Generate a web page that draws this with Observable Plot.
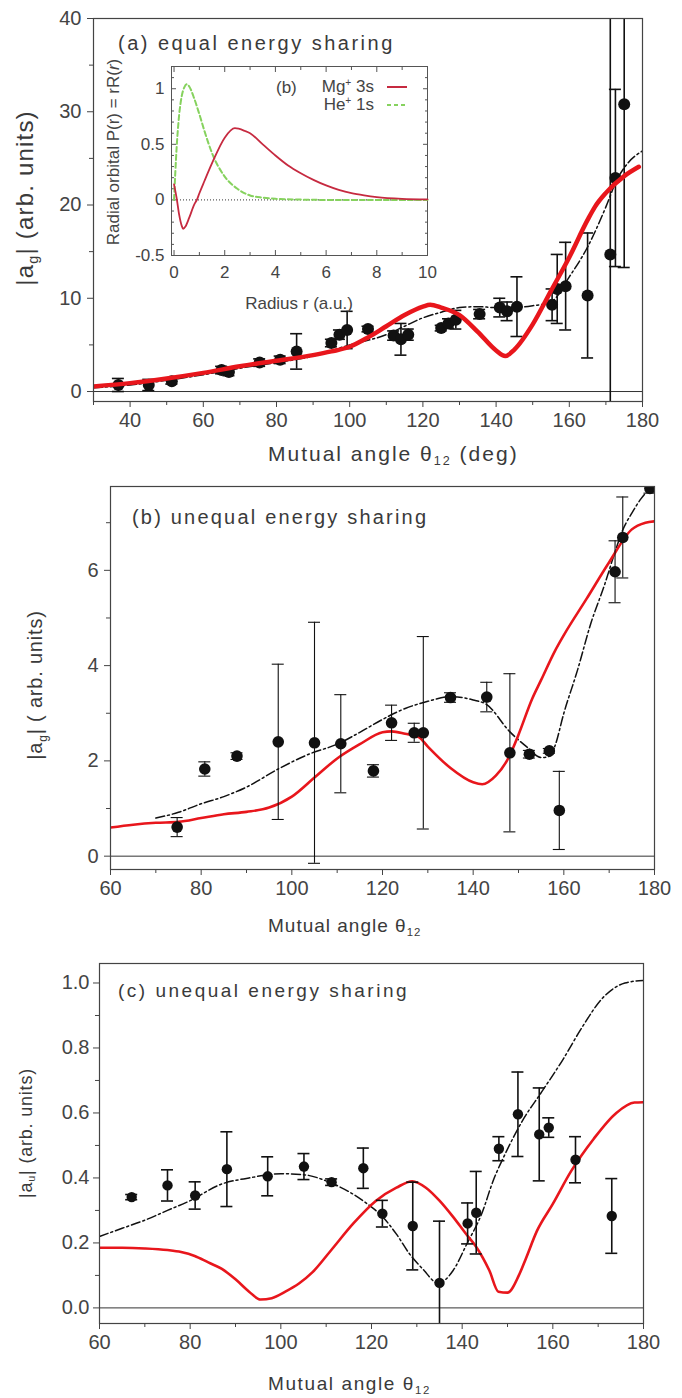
<!DOCTYPE html>
<html><head><meta charset="utf-8">
<script src="https://cdn.jsdelivr.net/npm/d3@7"></script>
<script src="https://cdn.jsdelivr.net/npm/@observablehq/plot@0.6"></script>
<style>
body{margin:0;background:#fff;}
#root{position:relative;width:682px;height:1398px;overflow:hidden;background:#fff;font-family:"Liberation Sans",Arial,sans-serif;color:#3a3a3a;}
#root svg{position:absolute;left:0;}
.lbl{position:absolute;white-space:nowrap;line-height:1;}
.rot{transform:translate(-50%,-50%) rotate(-90deg);}
.lbl sub{font-size:0.6em;vertical-align:-0.35em;}
.lbl sup{font-size:0.6em;vertical-align:0.6em;}
</style></head><body><div id="root"></div>
<script>
// ---------- Panel (a): equal energy sharing ----------
const aTheta = [36.8, 45.1, 51.4, 65, 67, 75.4, 81, 85.5, 95, 97.2, 99.3, 105, 112, 114, 116, 125, 127, 129, 135.5, 141, 143, 145.7, 155.3, 156.7, 159, 165, 171.2, 172.6, 175];
const aVal   = [0.7, 0.7, 1.1, 2.3, 2.1, 3.1, 3.4, 4.3, 5.2, 6.1, 6.6, 6.7, 6.0, 5.6, 6.1, 6.8, 7.3, 7.7, 8.3, 9.0, 8.6, 9.1, 9.3, 11.0, 11.3, 10.3, 14.7, 22.9, 30.8];
const aErr   = [0.7, 0.6, 0.3, 0.4, 0.4, 0.4, 0.4, 1.9, 0.4, 0.5, 2.0, 0.3, 0.5, 1.7, 0.6, 0.3, 0.5, 1.0, 0.5, 1.0, 1.0, 3.2, 1.7, 3.7, 4.7, 6.7, 30, 9.5, 17.5];
const aRedT  = [30, 40, 50, 60, 70, 80, 90, 95, 100, 105, 110, 115, 120, 122, 125, 130, 135, 140, 142.5, 145, 150, 155, 160, 165, 167, 170, 175, 179];
const aRedV  = [0.55, 0.9, 1.4, 2.0, 2.7, 3.3, 3.9, 4.3, 4.8, 5.8, 7.0, 8.2, 9.1, 9.3, 9.0, 8.2, 6.4, 4.4, 3.8, 4.5, 7.2, 10.8, 14.4, 18.4, 19.8, 21.3, 23.1, 24.1];
const aBlkT  = [30, 40, 50, 60, 70, 80, 90, 100, 110, 115, 120, 125, 130, 135, 140, 145, 150, 155, 160, 165, 170, 173, 176, 180];
const aBlkV  = [0.4, 0.7, 1.2, 1.8, 2.5, 3.1, 3.8, 5.0, 6.1, 7.0, 7.9, 8.5, 9.0, 9.1, 9.0, 9.0, 9.2, 9.6, 12.3, 15.5, 19.8, 22.7, 24.5, 25.8];

// ---------- Inset: radial orbitals ----------
const heR = [0, 0.1, 0.2, 0.3, 0.4, 0.5, 0.6, 0.8, 1.0, 1.2, 1.5, 2.0, 2.5, 3.0, 3.5, 4.0, 5.0, 6, 8, 10];
const heP = [0, 0.46, 0.76, 0.93, 1.01, 1.04, 1.02, 0.91, 0.77, 0.62, 0.42, 0.21, 0.1, 0.04, 0.02, 0.01, 0.003, 0, 0, 0];
const mgR = [0, 0.1, 0.2, 0.3, 0.36, 0.45, 0.6, 0.8, 0.9, 1.0, 1.2, 1.5, 2.0, 2.4, 2.8, 3.0, 3.5, 4.0, 4.5, 5.0, 5.5, 6.0, 6.5, 7, 7.5, 8, 9, 10];
const mgP = [0.14, 0.02, -0.13, -0.23, -0.26, -0.24, -0.16, -0.04, 0, 0.06, 0.17, 0.33, 0.56, 0.645, 0.62, 0.6, 0.5, 0.4, 0.31, 0.24, 0.18, 0.13, 0.09, 0.06, 0.04, 0.025, 0.01, 0.005];

// ---------- Panel (b): unequal energy sharing, |a_g| ----------
const bTheta = [74.7, 80.8, 87.9, 97, 105, 110.8, 118, 122, 127, 129, 135, 143, 148.1, 152.4, 156.8, 159, 171.3, 173, 179];
const bVal   = [0.61, 1.83, 2.1, 2.4, 2.38, 2.36, 1.79, 2.8, 2.59, 2.59, 3.33, 3.34, 2.17, 2.14, 2.21, 0.96, 5.97, 6.69, 7.72];
const bErr   = [0.2, 0.15, 0.07, 1.63, 2.53, 1.03, 0.13, 0.37, 0.2, 2.02, 0.1, 0.31, 1.66, 0.08, 0.05, 0.82, 0.65, 0.85, 0.1];
const bRedT  = [60, 65, 70, 75, 80, 85, 90, 95, 100, 105, 110, 115, 120, 122, 125, 128, 130, 135, 140, 142, 145, 148, 150, 153, 155, 158, 160, 165, 170, 175, 178, 180];
const bRedV  = [0.6, 0.66, 0.7, 0.72, 0.8, 0.88, 0.93, 1.02, 1.25, 1.65, 2.05, 2.35, 2.6, 2.62, 2.57, 2.5, 2.3, 1.85, 1.55, 1.51, 1.69, 2.1, 2.55, 3.3, 3.7, 4.3, 4.64, 5.4, 6.17, 6.86, 7.0, 7.03];
const bBlkT  = [70, 75, 80, 85, 90, 97, 104, 110, 115, 120, 125, 130, 135, 140, 143, 148, 152, 155, 157, 158, 160, 163, 166, 169, 171, 173, 175, 177, 179];
const bBlkV  = [0.8, 0.92, 1.1, 1.25, 1.45, 1.83, 2.15, 2.35, 2.6, 2.87, 3.1, 3.25, 3.35, 3.28, 3.18, 2.62, 2.28, 2.07, 2.1, 2.3, 3.0, 3.9, 4.9, 5.7, 6.3, 6.85, 7.2, 7.5, 7.72];

// ---------- Panel (c): unequal energy sharing, |a_u| ----------
const cTheta = [67.1, 75, 81.1, 88.1, 97.1, 105.1, 111.2, 118.2, 122.4, 129.1, 135, 141.2, 143.1, 148.1, 152.3, 157, 159.1, 165, 173];
const cVal   = [0.341, 0.377, 0.346, 0.427, 0.405, 0.435, 0.387, 0.43, 0.29, 0.252, 0.077, 0.26, 0.293, 0.49, 0.596, 0.534, 0.555, 0.456, 0.283];
const cErr   = [0.008, 0.048, 0.042, 0.115, 0.06, 0.04, 0.01, 0.062, 0.041, 0.135, 0.19, 0.063, 0.127, 0.037, 0.13, 0.143, 0.03, 0.071, 0.115];
const cRedT  = [60, 65, 70, 75, 78, 81, 84, 87, 90, 93, 95.5, 98, 101, 104, 107, 111, 116, 121, 125.5, 129, 132, 135, 138, 141, 143, 146, 148, 150, 152.5, 154, 156.5, 160, 164, 169, 174, 178, 180];
const cRedV  = [0.185, 0.185, 0.183, 0.178, 0.172, 0.16, 0.14, 0.12, 0.088, 0.05, 0.026, 0.03, 0.05, 0.075, 0.11, 0.176, 0.26, 0.33, 0.37, 0.39, 0.37, 0.33, 0.28, 0.225, 0.19, 0.115, 0.05, 0.047, 0.1, 0.15, 0.237, 0.32, 0.42, 0.52, 0.6, 0.632, 0.633];
const cBlkT  = [60, 65, 70, 75, 80, 86.7, 93, 100, 105, 111, 118.7, 122.6, 125.5, 128.4, 131.3, 134.7, 138, 141, 144.4, 146.8, 149.7, 153.6, 157.5, 162.3, 166.2, 171, 175.9, 180];
const cBlkV  = [0.22, 0.245, 0.27, 0.3, 0.33, 0.38, 0.4, 0.413, 0.41, 0.385, 0.324, 0.278, 0.227, 0.166, 0.12, 0.076, 0.115, 0.196, 0.293, 0.39, 0.48, 0.583, 0.664, 0.766, 0.858, 0.954, 1.0, 1.008];

// ---------- helpers ----------
const root = document.getElementById("root");
const pts = (ts, vs, es) => ts.map((t, i) => ({t, v: vs[i], e: es ? es[i] : 0}));
const FONT = '"Liberation Sans", Arial, sans-serif';
const RED = "#e8161c";
const INK = "#111";

function mainPanel(o) {
  const W = 682;
  const capHalf = o.capPx * (o.xDomain[1] - o.xDomain[0]) / (W - o.mL - o.mR);
  const P = pts(o.theta, o.val, o.err);
  const redMark = Plot.line(pts(o.redT, o.redV), {x: "t", y: "v", stroke: RED, strokeWidth: o.redW, curve: "monotone-x", clip: true});
  const blkMark = Plot.line(pts(o.blkT, o.blkV), {x: "t", y: "v", stroke: INK, strokeWidth: 1.5, strokeDasharray: "9,3,2,3", curve: "monotone-x", clip: true});
  const errMarks = [
    Plot.ruleX(P, {x: "t", y1: d => d.v - d.e, y2: d => d.v + d.e, stroke: INK, strokeWidth: o.errW, clip: true}),
    Plot.ruleY(P, {y: d => d.v - d.e, x1: d => d.t - capHalf, x2: d => d.t + capHalf, stroke: INK, strokeWidth: o.errW, clip: true}),
    Plot.ruleY(P, {y: d => d.v + d.e, x1: d => d.t - capHalf, x2: d => d.t + capHalf, stroke: INK, strokeWidth: o.errW, clip: true}),
    Plot.dot(P, {x: "t", y: "v", r: o.dotR, fill: INK, stroke: "none", clip: true})
  ];
  const marks = [
    Plot.ruleY([0], {stroke: "#333", strokeWidth: 1}),
    Plot.axisX({ticks: o.xMajor, tickSize: 6, tickPadding: 5, fontSize: o.fs, label: null, tickFormat: d => String(d), stroke: "#444", fill: "#444"}),
    Plot.axisX({ticks: o.xMinor, tickSize: 4, label: null, tickFormat: () => "", stroke: "#444"}),
    Plot.axisY({ticks: o.yMajor, tickSize: 6, tickPadding: o.yPad, fontSize: o.fs, label: null, tickFormat: o.yFmt, stroke: "#444", fill: "#444"}),
    Plot.axisY({ticks: o.yMinor, tickSize: 4, label: null, tickFormat: () => "", stroke: "#444"}),
    blkMark,
    ...(o.redOnTop ? [...errMarks, redMark] : [redMark, ...errMarks]),
    Plot.frame({stroke: "#444", strokeWidth: 1.2})
  ];
  const svg = Plot.plot({
    width: W, height: o.height,
    marginLeft: o.mL, marginRight: o.mR, marginTop: o.mT, marginBottom: o.mB,
    x: {type: "linear", domain: o.xDomain},
    y: {type: "linear", domain: o.yDomain},
    style: {background: "transparent", fontFamily: FONT, color: "#444", overflow: "visible"},
    marks
  });
  svg.style.top = o.top + "px";
  root.appendChild(svg);
}

function label(html, x, y, fs, opts = {}) {
  const d = document.createElement("div");
  d.className = "lbl" + (opts.rot ? " rot" : "");
  d.innerHTML = html;
  d.style.fontSize = fs + "px";
  if (opts.ls) d.style.letterSpacing = opts.ls + "px";
  if (opts.color) d.style.color = opts.color;
  if (opts.rot) { d.style.left = x + "px"; d.style.top = y + "px"; }
  else if (opts.center) { d.style.left = x + "px"; d.style.top = y + "px"; d.style.transform = "translate(-50%,-50%)"; }
  else if (opts.right) { d.style.right = (682 - x) + "px"; d.style.top = (y - fs * 0.5) + "px"; d.style.textAlign = "right"; }
  else { d.style.left = x + "px"; d.style.top = (y - fs * 0.5) + "px"; }
  root.appendChild(d);
  return d;
}

// ---------- Panel (a) ----------
mainPanel({
  top: 0, height: 470, mL: 93, mR: 40, mT: 18, mB: 69,
  xDomain: [30, 180], yDomain: [-1.07, 40],
  xMajor: [40, 60, 80, 100, 120, 140, 160, 180], xMinor: [30, 50, 70, 90, 110, 130, 150, 170],
  yMajor: [0, 10, 20, 30, 40], yMinor: [5, 15, 25, 35], yFmt: d => String(d), yPad: 6,
  fs: 20, theta: aTheta, val: aVal, err: aErr, redT: aRedT, redV: aRedV, blkT: aBlkT, blkV: aBlkV,
  redW: 4.5, dotR: 6, errW: 1.6, capPx: 6, redOnTop: true
});

// ---------- Inset ----------
{
  const heD = pts(heR, heP), mgD = pts(mgR, mgP);
  const svg = Plot.plot({
    width: 682, height: 470,
    marginLeft: 171, marginRight: 255, marginTop: 66, marginBottom: 215,
    x: {type: "linear", domain: [-0.1, 10]},
    y: {type: "linear", domain: [-0.5, 1.2]},
    style: {background: "transparent", fontFamily: FONT, color: "#444", overflow: "visible"},
    marks: [
      Plot.frame({fill: "white", stroke: "#555", strokeWidth: 1}),
      Plot.ruleY([0], {stroke: "#333", strokeWidth: 1, strokeDasharray: "1,2"}),
      Plot.axisX({anchor: "bottom", ticks: [0, 2, 4, 6, 8, 10], tickSize: -5, tickFormat: () => "", label: null, stroke: "#555"}),
      Plot.axisX({anchor: "bottom", ticks: [1, 3, 5, 7, 9], tickSize: -3, tickFormat: () => "", label: null, stroke: "#555"}),
      Plot.axisX({anchor: "top", ticks: [0, 2, 4, 6, 8, 10], tickSize: -5, tickFormat: () => "", label: null, stroke: "#555"}),
      Plot.axisX({anchor: "top", ticks: [1, 3, 5, 7, 9], tickSize: -3, tickFormat: () => "", label: null, stroke: "#555"}),
      Plot.axisY({anchor: "left", ticks: [-0.5, 0, 0.5, 1], tickSize: -5, tickFormat: () => "", label: null, stroke: "#555"}),
      Plot.axisY({anchor: "left", ticks: [-0.4, -0.3, -0.2, -0.1, 0.1, 0.2, 0.3, 0.4, 0.6, 0.7, 0.8, 0.9, 1.1], tickSize: -3, tickFormat: () => "", label: null, stroke: "#555"}),
      Plot.axisY({anchor: "right", ticks: [-0.5, 0, 0.5, 1], tickSize: -5, tickFormat: () => "", label: null, stroke: "#555"}),
      Plot.axisY({anchor: "right", ticks: [-0.4, -0.3, -0.2, -0.1, 0.1, 0.2, 0.3, 0.4, 0.6, 0.7, 0.8, 0.9, 1.1], tickSize: -3, tickFormat: () => "", label: null, stroke: "#555"}),
      Plot.axisX({anchor: "bottom", ticks: [0, 2, 4, 6, 8, 10], tickSize: 0, tickPadding: 10, fontSize: 17, label: null, tickFormat: d => String(d), fill: "#444"}),
      Plot.axisY({anchor: "left", ticks: [-0.5, 0, 0.5, 1], tickSize: 0, tickPadding: 7, fontSize: 17, label: null, tickFormat: d => String(d), fill: "#444"}),
      Plot.line(heD, {x: "t", y: "v", stroke: "#86d25e", strokeWidth: 2, strokeDasharray: "5,3", curve: "monotone-x"}),
      Plot.line(mgD, {x: "t", y: "v", stroke: "#c62a40", strokeWidth: 1.8, curve: "monotone-x"})
    ]
  });
  svg.style.top = "0px";
  root.appendChild(svg);
  // legend swatches (svg)
  const lg = d3.create("svg").attr("width", 30).attr("height", 40)
    .style("position", "absolute").style("left", "385px").style("top", "68px");
  lg.append("line").attr("x1", 2).attr("x2", 22).attr("y1", 19).attr("y2", 19).attr("stroke", "#c62a40").attr("stroke-width", 2);
  lg.append("line").attr("x1", 2).attr("x2", 22).attr("y1", 37).attr("y2", 37).attr("stroke", "#86d25e").attr("stroke-width", 2).attr("stroke-dasharray", "4,3");
  root.appendChild(lg.node());
}
label("(b)", 276, 87, 17, {color: "#444"});
label("Mg<sup>+</sup> 3s", 374, 86, 17, {right: true, color: "#444"});
label("He<sup>+</sup> 1s", 374, 104, 17, {right: true, color: "#444"});
label("Radial orbital P(r) = rR(<i>r</i>)", 113, 152, 17, {rot: true, color: "#444"});
label("Radius r (a.u.)", 299, 303, 17, {center: true, color: "#444"});

// panel (a) texts
label("(a) equal energy sharing", 118, 43, 20, {ls: 2.5});
label("|a<sub>g</sub>| (arb. units)", 27, 198, 24, {rot: true, ls: 1.2});
label("Mutual angle θ<sub>12</sub> (deg)", 268, 453, 21, {ls: 2});

// ---------- Panel (b) ----------
mainPanel({
  top: 470, height: 440, mL: 110, mR: 28, mT: 16, mB: 41,
  xDomain: [60, 180], yDomain: [-0.28, 7.76],
  xMajor: [60, 80, 100, 120, 140, 160, 180], xMinor: [70, 90, 110, 130, 150, 170],
  yMajor: [0, 2, 4, 6], yMinor: [1, 3, 5, 7], yFmt: d => String(d), yPad: 6,
  fs: 20, theta: bTheta, val: bVal, err: bErr, redT: bRedT, redV: bRedV, blkT: bBlkT, blkV: bBlkV,
  redW: 2.6, dotR: 5.8, errW: 1.1, capPx: 6, redOnTop: false
});
label("(b) unequal energy sharing", 132, 517, 20, {ls: 2.2});
label("|a<sub>g</sub>| ( arb. units)", 37, 685, 20, {rot: true, ls: 0.8});
label("Mutual angle θ<sub>12</sub>", 268, 925, 19, {ls: 1});

// ---------- Panel (c) ----------
mainPanel({
  top: 910, height: 488, mL: 99, mR: 39, mT: 53, mB: 75,
  xDomain: [60, 180], yDomain: [-0.048, 1.06],
  xMajor: [60, 80, 100, 120, 140, 160, 180], xMinor: [70, 90, 110, 130, 150, 170],
  yMajor: [0, 0.2, 0.4, 0.6, 0.8, 1.0], yMinor: [0.1, 0.3, 0.5, 0.7, 0.9], yFmt: d3.format(".1f"), yPad: 4,
  fs: 20, theta: cTheta, val: cVal, err: cErr, redT: cRedT, redV: cRedV, blkT: cBlkT, blkV: cBlkV,
  redW: 2.6, dotR: 5.2, errW: 1.6, capPx: 6, redOnTop: false
});
label("(c) unequal energy sharing", 118, 990, 19, {ls: 2.5});
label("|a<sub>u</sub>| (arb. units)", 27, 1133, 18, {rot: true, ls: 0.8});
label("Mutual angle θ<sub>12</sub>", 268, 1383, 19, {ls: 1.6});
</script></body></html>
